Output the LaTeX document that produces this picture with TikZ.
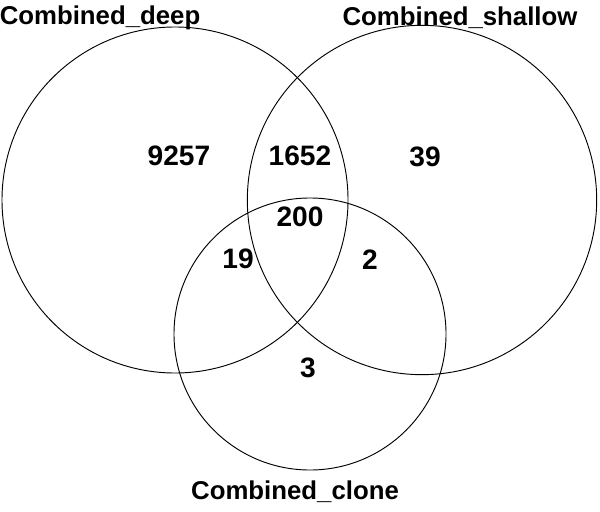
\documentclass[tikz,border=0pt]{standalone}
\usepackage{fontspec}
\setmainfont{Liberation Sans}
\begin{document}
\begin{tikzpicture}[x=0.03cm,y=-0.03cm,
    setlabel/.style={font=\fontsize{22}{26}\selectfont\bfseries},
    count/.style={font=\fontsize{24}{28}\selectfont\bfseries}]
            \useasboundingbox (0,0) rectangle (600,511);

            \draw[line width=0.8pt] (175,200) circle (5.19cm);
            \draw[line width=0.8pt] (422,200) circle (5.24cm);
            \draw[line width=0.8pt] (310,334) circle (4.08cm);

            \node[setlabel] (deep) at (100,18) {Combined\_deep};
            \node[setlabel] (shallow) at (460,18) {Combined\_shallow};
            \node[setlabel] (clone) at (295,492) {Combined\_clone};

            \node[count] (d) at (179,156) {9257};
            \node[count] (ds) at (300,156) {1652};
            \node[count] (s) at (425,157) {39};
            \node[count] (dsc) at (300,217) {200};
            \node[count] (dc) at (238,259) {19};
            \node[count] (sc) at (370,260) {2};
            \node[count] (c) at (308,368) {3};
        \end{tikzpicture}
\end{document}
